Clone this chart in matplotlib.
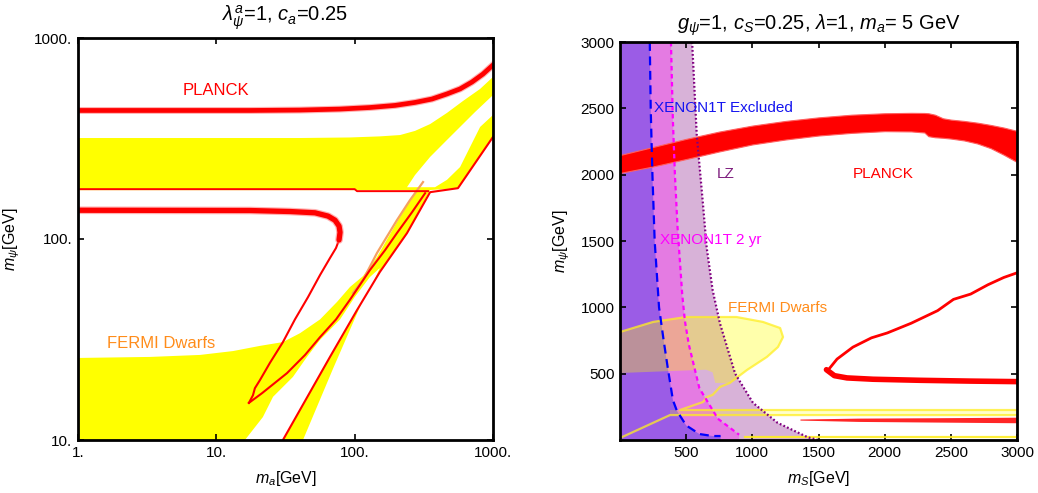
import numpy as np
import matplotlib
matplotlib.use('Agg')
import matplotlib.pyplot as plt
from matplotlib.ticker import FixedLocator, FixedFormatter, NullLocator

plt.rcParams['font.family'] = ['Liberation Sans', 'DejaVu Sans']
plt.rcParams['mathtext.fontset'] = 'custom'
plt.rcParams['mathtext.rm'] = 'Liberation Sans'
plt.rcParams['mathtext.it'] = 'Liberation Sans:italic'
plt.rcParams['mathtext.bf'] = 'Liberation Sans:bold'

# ================= LEFT PANEL DATA (m_a, m_psi in GeV) =================
planck_up_ma = [1, 17.5, 40.3, 78.4, 129, 196, 273, 362, 465, 578, 705, 847, 1000]
planck_up_mpsi = [436, 436, 438, 443, 451, 462, 478, 497, 527, 558, 604, 662, 734]

yel_up_top_ma = [1, 40.3, 92.5, 152, 213, 273, 351, 465, 607, 807, 1000]
yel_up_top_mpsi = [318, 318, 320, 324, 329, 345, 373, 424, 486, 558, 640]
yel_up_bot_ma = [1, 339, 558, 1000]
yel_up_bot_mpsi = [175, 175, 179, 322]

wedge_ma = [239, 273, 351, 465, 578, 741, 1000, 1000, 807, 683, 578, 465, 381]
wedge_mpsi = [181, 208, 256, 311, 361, 428, 520, 414, 361, 287, 228, 197, 181]

fermi_ma = [1, 3.31, 7.62, 13.2, 20.7, 30.3, 40.3, 56.2, 74.5, 92.5, 115, 145, 202,
            251, 312, 351, 239, 152, 115, 69.7, 42.3, 1]
fermi_mpsi = [25.6, 25.9, 26.5, 27.7, 29.4, 30.7, 34.0, 39.8, 48.6, 57.7, 65.4, 81.4,
              121.5, 156, 192, 175, 107, 68.5, 49.9, 22.6, 10, 10]

gap_ma = [16.1, 21.7, 25.7, 35.8, 45.2, 56.2, 78.4, 100, 129, 152, 133.5, 104, 66.3, 30.3]
gap_mpsi = [10, 13.0, 16.4, 20.6, 25.9, 31.5, 39.8, 51.4, 64.7, 71.7, 59.0, 44.3, 25.9, 10]

red_h_ma = [1, 100, 104, 339]
red_h_mpsi = [177, 177, 173, 173]

tongue_low_ma = [323, 260, 202, 166, 129, 92.5, 73.3, 56.2, 43.8, 32.4, 21.4, 17.2]
tongue_low_mpsi = [169, 136, 107, 88.1, 70.1, 49.9, 39.8, 32.5, 26.5, 21.5, 17.1, 15.3]

tongue_thick_ma = [1, 17.5, 34.1, 51.7, 64.2, 72.1, 77.1, 78.4, 77.1]
tongue_thick_mpsi = [139, 138.6, 137, 135, 130, 124, 116, 108, 98.9]
tongue_thin_ma = [78.4, 77.1, 73.3, 66.3, 56.2, 46.0, 37.0, 30.3, 24.4, 20.7, 19.0, 18.4, 17.2]
tongue_thin_mpsi = [108, 98.9, 90.2, 80.4, 66.2, 51.4, 39.8, 30.7, 24.2, 19.9, 18.1, 16.7, 15.3]

red_right_ma = [30.3, 66.3, 104, 152, 239, 351, 558, 1000]
red_right_mpsi = [10, 25.9, 44.3, 68.5, 107, 171, 179, 322]

orange_ma = [312, 251, 202, 145, 115, 97.3]
orange_mpsi = [192, 156, 124, 85.2, 62.6, 53.9]

# ================= RIGHT PANEL DATA (m_S, m_psi in GeV) =================
x1t_ms = [225, 232, 245, 262, 295, 330, 360, 400, 430, 500, 600, 700, 760]
x1t_mpsi = [3000, 2500, 2000, 1500, 1000, 750, 550, 300, 220, 110, 45, 30, 30]

x2yr_ms = [385, 400, 415, 435, 470, 490, 520, 600, 740, 900]
x2yr_mpsi = [3000, 2400, 2000, 1600, 1100, 900, 720, 390, 160, 40]

lz_ms = [545, 580, 625, 655, 700, 755, 870, 1005, 1190, 1420, 1500]
lz_mpsi = [3000, 2300, 1800, 1450, 1130, 880, 500, 280, 130, 20, 0]

planckR_ms = [0, 250, 500, 750, 1000, 1250, 1500, 1750, 2000, 2200, 2300, 2330,
              2380, 2440, 2500, 2600, 2700, 2800, 2900, 3000]
planckR_up = [2148, 2209, 2270, 2325, 2370, 2405, 2432, 2452, 2463, 2466, 2465, 2463,
              2452, 2425, 2415, 2405, 2392, 2375, 2355, 2330]
planckR_lo = [2013, 2062, 2118, 2175, 2228, 2265, 2295, 2315, 2328, 2326, 2318, 2290,
              2282, 2278, 2272, 2258, 2235, 2200, 2150, 2095]

loop_up_ms = [1575, 1640, 1760, 1900, 2020, 2200, 2400, 2520, 2650, 2780, 2900, 3000]
loop_up_mpsi = [530, 610, 700, 770, 807, 880, 975, 1060, 1100, 1170, 1225, 1260]
loop_lo_ms = [1560, 1620, 1715, 1912, 2267, 2645, 3000]
loop_lo_mpsi = [530, 485, 468, 458, 450, 444, 440]

redlow_ms = [1360, 1800, 2400, 3000]
redlow_up = [158, 165, 168, 172]
redlow_lo = [150, 140, 135, 130]

fermiR_top_ms = [0, 250, 500, 880, 1080, 1210, 1232]
fermiR_top_mpsi = [814, 890, 927, 927, 890, 844, 776]
fermiR_edge_ms = [1194, 1110, 960, 830, 756, 700, 657, 627, 580, 453, 3000]
fermiR_edge_mpsi = [701, 626, 528, 430, 400, 340, 324, 286, 270, 226, 226]
fermiR_tint_lo_ms = [720, 700, 650, 0]
fermiR_tint_lo_mpsi = [430, 510, 530, 505]
band2_ms = [0, 378, 3000]
band2_mpsi = [15, 188, 188]
bottom_line_ms = [945, 3000]
bottom_line_mpsi = [25, 25]

# ================= FIGURE =================
fig = plt.figure(figsize=(10.38, 4.93), dpi=100)
axL = fig.add_axes([78/1038, 1-440/493, 415/1038, 402/493])
axR = fig.add_axes([620/1038, 1-440/493, 397/1038, 398/493])

RED = '#FF0000'
YEL = '#FFFF00'

# ---- left ----
axL.set_xscale('log'); axL.set_yscale('log')
axL.fill(yel_up_top_ma + yel_up_bot_ma[::-1], yel_up_top_mpsi + yel_up_bot_mpsi[::-1],
         color=YEL, lw=0, zorder=1)
axL.fill(wedge_ma, wedge_mpsi, color='white', lw=0, zorder=2)
axL.fill(fermi_ma, fermi_mpsi, color=YEL, lw=0, zorder=1)
axL.fill(gap_ma, gap_mpsi, color='white', lw=0, zorder=2)

axL.plot(orange_ma, orange_mpsi, color='#F5A060', lw=1.6, zorder=3)
for xs, ys, lw in [(red_h_ma, red_h_mpsi, 1.4), (tongue_low_ma, tongue_low_mpsi, 1.5),
                   (tongue_thin_ma, tongue_thin_mpsi, 1.5), (red_right_ma, red_right_mpsi, 1.5)]:
    axL.plot(xs, ys, color=RED, lw=lw, zorder=4, solid_joinstyle='round')
axL.plot(tongue_thick_ma, tongue_thick_mpsi, color='#FF8080', lw=5.5, zorder=4,
         solid_capstyle='round', alpha=0.6)
axL.plot(tongue_thick_ma, tongue_thick_mpsi, color=RED, lw=3.8, zorder=4, solid_capstyle='round')
axL.plot(planck_up_ma, planck_up_mpsi, color='#FF8080', lw=5.0, zorder=4, alpha=0.6)
axL.plot(planck_up_ma, planck_up_mpsi, color=RED, lw=3.4, zorder=4)

axL.text(5.74, 551, 'PLANCK', color=RED, fontsize=12, ha='left', va='center')
axL.text(1.62, 30.1, 'FERMI Dwarfs', color='#FF8C1A', fontsize=12, ha='left', va='center')

axL.set_xlim(1, 1000); axL.set_ylim(10, 1000)
axL.xaxis.set_major_locator(FixedLocator([1, 10, 100, 1000]))
axL.xaxis.set_major_formatter(FixedFormatter(['1.', '10.', '100.', '1000.']))
axL.yaxis.set_major_locator(FixedLocator([10, 100, 1000]))
axL.yaxis.set_major_formatter(FixedFormatter(['10.', '100.', '1000.']))
axL.xaxis.set_minor_locator(NullLocator()); axL.yaxis.set_minor_locator(NullLocator())
axL.set_xlabel(r'$m_a$[GeV]', fontsize=11.5, labelpad=7)
axL.set_ylabel(r'$m_\psi$[GeV]', fontsize=11.5)
axL.set_title(r'$\lambda^a_\psi$=1, $c_a$=0.25', fontsize=14.5, pad=12)

# ---- right ----
axR.fill([0] + lz_ms + [0], [3000] + lz_mpsi + [0], color='#D8B2D8', lw=0, zorder=1)
axR.fill([0] + x2yr_ms + [x2yr_ms[-1], 0], [3000] + x2yr_mpsi + [0, 0],
         color='#E47BE2', lw=0, zorder=1)
axR.fill([0] + x1t_ms + [x1t_ms[-1], 0], [3000] + x1t_mpsi + [0, 0],
         color='#9B5CE6', lw=0, zorder=1)

axR.plot(x1t_ms, x1t_mpsi, color='#0000FF', lw=1.6, dashes=(4, 2.5), zorder=5)
axR.plot(x2yr_ms, x2yr_mpsi, color='#FF00FF', lw=1.6, dashes=(2, 1.6), zorder=5)
axR.plot(lz_ms, lz_mpsi, color='#800080', lw=1.6, dashes=(0.8, 1.0), zorder=5)

# FERMI region (right)
tint_x = fermiR_top_ms + fermiR_edge_ms[:4] + fermiR_tint_lo_ms
tint_y = fermiR_top_mpsi + fermiR_edge_mpsi[:4] + fermiR_tint_lo_mpsi
axR.fill(tint_x, tint_y, color=YEL, alpha=0.33, lw=0, zorder=2)
axR.fill_between(band2_ms[1:], [226, 226], [188, 188], color=YEL, alpha=0.2, lw=0, zorder=2)
axR.plot(fermiR_top_ms + fermiR_edge_ms, fermiR_top_mpsi + fermiR_edge_mpsi,
         color='#FFEE22', lw=1.6, alpha=0.75, zorder=3)
axR.plot(band2_ms, band2_mpsi, color='#FFEE22', lw=1.6, alpha=0.75, zorder=3)
axR.plot(bottom_line_ms, bottom_line_mpsi, color='#FFEE22', lw=1.6, alpha=0.9, zorder=3)

# PLANCK (right)
axR.fill_between(planckR_ms, planckR_lo, planckR_up, color=RED, lw=0.8, edgecolor='#FF6060', zorder=4)
axR.fill_between(redlow_ms, redlow_lo, redlow_up, color=RED, alpha=0.85, lw=0, zorder=4)
axR.plot(loop_up_ms, loop_up_mpsi, color=RED, lw=2.0, zorder=4, solid_joinstyle='round')
axR.plot(loop_lo_ms, loop_lo_mpsi, color=RED, lw=4.0, zorder=4, solid_capstyle='round')

axR.text(257, 2502, 'XENON1T Excluded', color='#1414F0', fontsize=11, ha='left', va='center', zorder=6)
axR.text(733, 2005, 'LZ', color='#7F1F7F', fontsize=11, ha='left', va='center', zorder=6)
axR.text(1761, 2005, 'PLANCK', color=RED, fontsize=11, ha='left', va='center', zorder=6)
axR.text(302, 1508, 'XENON1T 2 yr', color='#FF00FF', fontsize=11, ha='left', va='center', zorder=6)
axR.text(816, 995, 'FERMI Dwarfs', color='#FF8C1A', fontsize=11, ha='left', va='center', zorder=6)

axR.set_xlim(0, 3000); axR.set_ylim(0, 3000)
ticks = [500, 1000, 1500, 2000, 2500, 3000]
axR.xaxis.set_major_locator(FixedLocator(ticks))
axR.yaxis.set_major_locator(FixedLocator(ticks))
axR.set_xlabel(r'$m_S$[GeV]', fontsize=11.5, labelpad=7)
axR.set_ylabel(r'$m_\psi$[GeV]', fontsize=11.5)
axR.set_title(r'$g_\psi$=1, $c_S$=0.25, $\lambda$=1, $m_a$= 5 GeV', fontsize=14.5, pad=9)

for ax in (axL, axR):
    ax.tick_params(direction='in', top=True, right=True, length=4, width=1.2,
                   labelsize=11, pad=4)
    for s in ax.spines.values():
        s.set_linewidth(2.0)
        s.set_zorder(10)
axL.yaxis.set_label_coords(-0.135, 0.5)
axR.yaxis.set_label_coords(-0.121, 0.5)

fig.savefig('out.png', dpi=100)
